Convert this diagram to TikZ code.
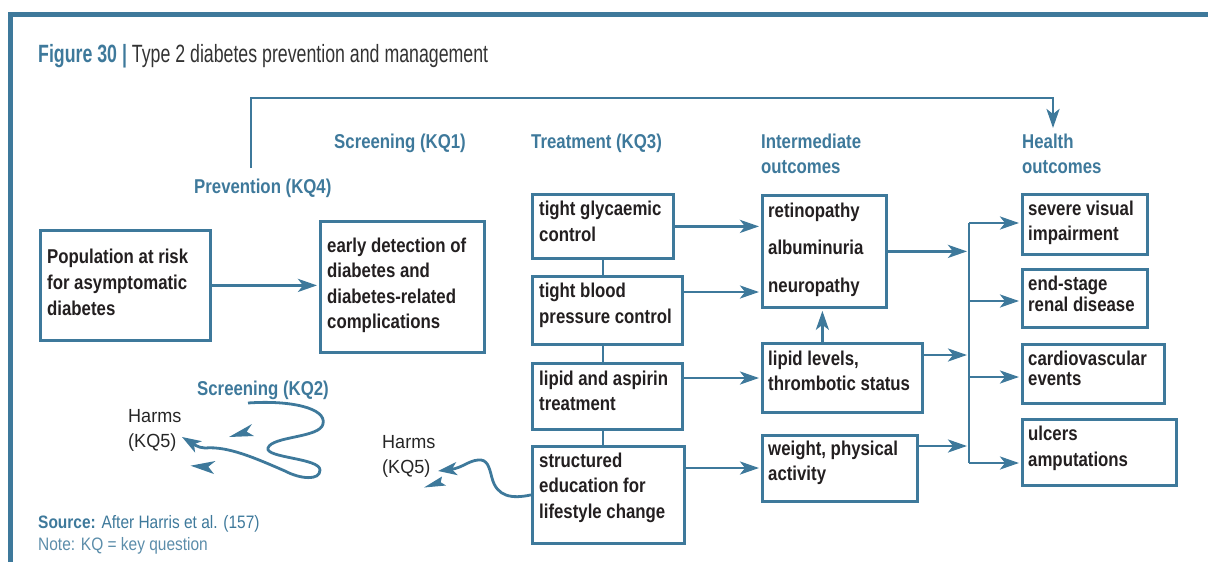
\documentclass[tikz,border=0pt]{standalone}
\usepackage{fontspec}
\setmainfont{Liberation Sans}
\newfontfamily\fc[FakeStretch=0.84]{Liberation Sans}
\newfontfamily\ft[FakeStretch=0.71]{Liberation Sans}
\newfontfamily\fsm[FakeStretch=0.86]{Liberation Sans}
\newfontfamily\fh[FakeStretch=0.95]{Liberation Sans}
\usetikzlibrary{arrows.meta}
\definecolor{bl}{RGB}{62,121,155}
\definecolor{tx}{RGB}{35,31,32}
\newcommand\ml[2]{\parbox[t]{8cm}{\baselineskip=#1pt\relax #2}}
\begin{document}
\begin{tikzpicture}[x=1pt,y=-1pt,
  box/.style={draw=bl,line width=2.8pt,inner sep=0pt,anchor=north west},
  txt/.style={anchor=base west,inner sep=0pt,text=tx,font=\fc\bfseries\fontsize{20}{24}\selectfont},
  lab/.style={anchor=base west,inner sep=0pt,text=bl,font=\fc\bfseries\fontsize{20}{24}\selectfont},
  harm/.style={anchor=base west,inner sep=0pt,text=black!85,font=\fh\fontsize{19}{24}\selectfont},
  src/.style={anchor=base west,inner sep=0pt,text=bl,font=\fsm\fontsize{18}{22}\selectfont},
  ln/.style={draw=bl,line width=2.8pt},
  arr/.style={draw=bl,line width=2.8pt,shorten >=2pt,-{Stealth[length=19pt,width=13pt,inset=5pt]}},
  tipfill/.style={fill=bl,draw=none}]
\useasboundingbox (0,0) rectangle (1208,562);
% frame
\draw[bl,line width=5pt] (10.5,562) -- (10.5,14.5) -- (1208,14.5);
% title
\node[anchor=base west,inner sep=0pt,font=\ft\fontsize{25}{30}\selectfont,text=black!80] (title) at (38,62)
  {\textcolor{bl}{\bfseries Figure 30 |} Type 2 diabetes prevention and management};
% column labels
\node[lab] (kq1) at (334,148) {Screening (KQ1)};
\node[lab] (kq3) at (531,148) {Treatment (KQ3)};
\node[lab] (imo) at (761,148) {\ml{25}{Intermediate\\outcomes}};
\node[lab] (hlo) at (1022,148) {\ml{25}{Health\\outcomes}};
\node[lab] (kq4) at (194,193) {Prevention (KQ4)};
\node[lab] (kq2) at (197,395) {Screening (KQ2)};
% boxes
\node[box,minimum width=170pt,minimum height=110pt] (pop) at (39,229) {};
\node[box,minimum width=164pt,minimum height=131pt] (early) at (319,220) {};
\node[box,minimum width=141pt,minimum height=64pt] (glyc) at (531,193) {};
\node[box,minimum width=150pt,minimum height=68pt] (blood) at (531,275) {};
\node[box,minimum width=150pt,minimum height=66pt] (lasp) at (531,362) {};
\node[box,minimum width=152pt,minimum height=97pt] (struct) at (531,445) {};
\node[box,minimum width=124pt,minimum height=112pt] (retino) at (761,194) {};
\node[box,minimum width=160pt,minimum height=69pt] (lipid) at (761,342) {};
\node[box,minimum width=155pt,minimum height=66pt] (weight) at (761,434) {};
\node[box,minimum width=125pt,minimum height=60pt] (severe) at (1021,193) {};
\node[box,minimum width=125pt,minimum height=58pt] (endst) at (1021,268) {};
\node[box,minimum width=142pt,minimum height=59pt] (cardio) at (1021,343) {};
\node[box,minimum width=154pt,minimum height=66pt] (ulcers) at (1021,418) {};
% box texts
\node[txt] (popt) at (47,263) {\ml{26}{Population at risk\\for asymptomatic\\diabetes}};
\node[txt] (earlyt) at (327,252) {\ml{25.5}{early detection of\\diabetes and\\diabetes-related\\complications}};
\node[txt] (glyct) at (539,215) {\ml{26.7}{tight glycaemic\\control}};
\node[txt] (bloodt) at (539,297) {\ml{26.5}{tight blood\\pressure control}};
\node[txt] (laspt) at (539,385) {\ml{25}{lipid and aspirin\\treatment}};
\node[txt] (structt) at (539,467) {\ml{25.7}{structured\\education for\\lifestyle change}};
\node[txt] (retinot) at (768,217) {\ml{37.7}{retinopathy\\albuminuria\\neuropathy}};
\node[txt] (lipidt) at (768,365) {\ml{25}{lipid levels,\\thrombotic status}};
\node[txt] (weightt) at (768,455) {\ml{25}{weight, physical\\activity}};
\node[txt] (severet) at (1028,215) {\ml{25}{severe visual\\impairment}};
\node[txt] (endstt) at (1028,290) {\ml{21}{end-stage\\renal disease}};
\node[txt] (cardiot) at (1028,365) {\ml{20.5}{cardiovascular\\events}};
\node[txt] (ulcerst) at (1028,440) {\ml{26}{ulcers\\amputations}};
% harms and notes
\node[harm] (h1) at (128,422) {\ml{25}{Harms\\(KQ5)}};
\node[harm] (h2) at (382,448) {\ml{25}{Harms\\(KQ5)}};
\node[src] (srcn) at (38,528) {\textbf{Source:} After Harris et al. (157)};
\node[src,text=bl!85] (note) at (38,550) {Note: KQ = key question};
% coordinates
\coordinate (pv) at (251,168);
\coordinate (pc) at (1053,98);
\coordinate (ph) at (1053,130);
\coordinate (b1) at (969,223);
\coordinate (b2) at (969,301);
\coordinate (b3) at (969,377);
\coordinate (b4) at (969,463);
\coordinate (bo) at ([yshift=-17pt]blood.north east);
\coordinate (lo) at ([yshift=-16pt]lasp.north east);
\coordinate (so) at ([yshift=-23pt]struct.north east);
\coordinate (lu) at ([xshift=-20pt]lipid.north);
\coordinate (lr) at ([yshift=-13pt]lipid.north east);
\coordinate (wr) at ([yshift=-12pt]weight.north east);
\coordinate (s1) at (248,403);
% prevention
\draw[arr] (pv) |- (pc) -- (ph);
% screening
\draw[arr] (pop.east) -- (pop.east -| early.west);
% treatment column links
\draw[ln] (glyc.south) -- (glyc.south |- blood.north);
\draw[ln] (glyc.south |- blood.south) -- (glyc.south |- lasp.north);
\draw[ln] (glyc.south |- lasp.south) -- (glyc.south |- struct.north);
% treatment to intermediate
\draw[arr] (glyc.east) -- (glyc.east -| retino.west);
\draw[arr] (bo) -- (bo -| retino.west);
\draw[arr] (lo) -- (lo -| lipid.west);
\draw[arr] (so) -- (so -| weight.west);
\draw[arr] (lu) -- (lu |- retino.south);
% intermediate to trunk
\draw[arr] (retino.east) -- (retino.east -| b1);
\draw[arr] (lr) -- (lr -| b1);
\draw[arr] (wr) -- (wr -| b1);
\draw[ln] (b1) -- (b4);
\draw[arr] (b1) -- (b1 -| severe.west);
\draw[arr] (b2) -- (b2 -| endst.west);
\draw[arr] (b3) -- (b3 -| cardio.west);
\draw[arr] (b4) -- (b4 -| ulcers.west);
% squiggles
\draw[arr,shorten >=0pt] (s1) .. controls (290,400) and (327,408) .. (323,424)
  .. controls (320,438) and (272,436) .. (268,448)
  .. controls (265,458) and (320,458) .. (320,470)
  .. controls (320,481) and (300,479) .. (285,471)
  .. controls (255,458) and (228,446) .. (205,448)
  .. controls (198,448) and (192,443) .. (182,437);
\draw[arr,shorten >=0pt] (struct.west) .. controls (512,499) and (497,497) .. (492,478)
  .. controls (489,466) and (487,459) .. (478,460)
  .. controls (468,461) and (462,468) .. (438,471);
% loose arrowheads
\fill[tipfill] (229,437) -- (252,424) -- (246.7,431.7) -- (254,436) -- cycle;
\fill[tipfill] (190.5,465.7) -- (215.5,461) -- (208.3,466.7) -- (214,474) -- cycle;
\fill[tipfill] (424,487.5) -- (442,476.5) -- (440.7,482.3) -- (446,485.5) -- cycle;
\end{tikzpicture}
\end{document}
